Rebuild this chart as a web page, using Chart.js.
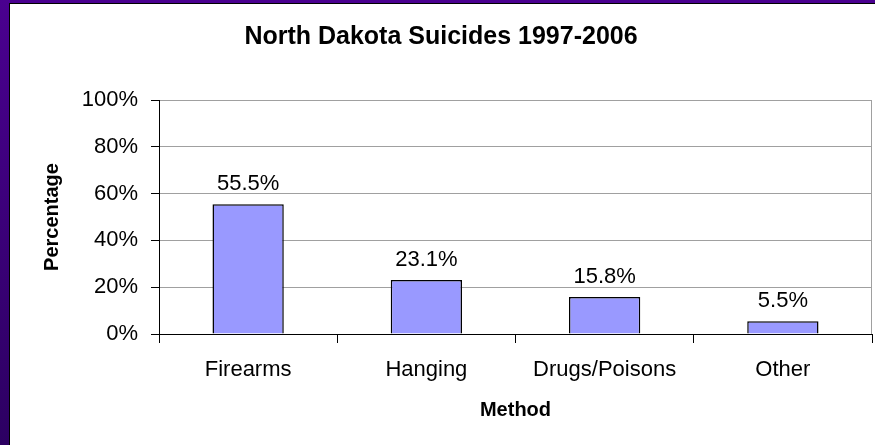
<!DOCTYPE html>
<html>
<head>
<meta charset="utf-8">
<script src="https://cdn.jsdelivr.net/npm/chart.js@4.4.1/dist/chart.umd.min.js"></script>
<style>
  html, body { margin: 0; padding: 0; }
  body {
    width: 875px; height: 445px; overflow: hidden;
    background: linear-gradient(to bottom, #4a0090, #2c0062);
    position: relative;
  }
  #box {
    position: absolute; left: 9px; top: 3px;
    width: 865px; height: 441px;
    background: #fff;
    border-left: 1px solid #000; border-top: 1px solid #000;
  }
</style>
</head>
<body>
<div id="box"><canvas id="chart" width="865" height="441"></canvas></div>
<script>
const categories = ["Firearms", "Hanging", "Drugs/Poisons", "Other"];
const percentages = [55.5, 23.1, 15.8, 5.5];
const yTicks = [0, 20, 40, 60, 80, 100];

const FONT = "'Liberation Sans', Arial, sans-serif";

// values written above each bar
const barLabels = {
    id: "barLabels",
    afterDatasetsDraw(chart) {
        const ctx = chart.ctx;
        const meta = chart.getDatasetMeta(0);
        ctx.save();
        ctx.font = "22px " + FONT;
        ctx.fillStyle = "#000";
        ctx.textAlign = "center";
        ctx.textBaseline = "bottom";
        meta.data.forEach((bar, i) => {
            ctx.fillText(percentages[i].toFixed(1) + "%", bar.x, bar.y - 9);
        });
        ctx.restore();
    }
};

// grey right edge of the plot frame
const frameRight = {
    id: "frameRight",
    beforeDatasetsDraw(chart) {
        const a = chart.chartArea, ctx = chart.ctx;
        ctx.save();
        ctx.strokeStyle = "#a0a0a0";
        ctx.lineWidth = 1;
        ctx.beginPath();
        ctx.moveTo(a.right - 0.5, a.top);
        ctx.lineTo(a.right - 0.5, a.bottom);
        ctx.stroke();
        ctx.restore();
    }
};

new Chart(document.getElementById("chart"), {
    type: "bar",
    data: {
        labels: categories,
        datasets: [{
            data: percentages,
            backgroundColor: "#9999ff",
            borderColor: "#000",
            borderWidth: 1.5,
            categoryPercentage: 0.4,
            barPercentage: 1
        }]
    },
    options: {
        responsive: false,
        animation: false,
        layout: { padding: { top: 0, right: 3, bottom: 0, left: 0 } },
        plugins: {
            legend: { display: false },
            tooltip: { enabled: false },
            title: {
                display: true,
                text: "North Dakota Suicides 1997-2006",
                color: "#000",
                font: { family: FONT, size: 25, weight: "bold" },
                padding: { top: 18, bottom: 48 }
            }
        },
        scales: {
            x: {
                grid: { display: true, drawOnChartArea: false, tickLength: 9, tickColor: "#000" },
                border: { color: "#000", width: 1 },
                ticks: { color: "#000", font: { family: FONT, size: 22 }, padding: 14 },
                title: {
                    display: true, text: "Method", color: "#000",
                    font: { family: FONT, size: 20, weight: "bold" },
                    padding: { top: 0, bottom: 23 }
                },
                afterFit(scale) { scale.height = 111; }
            },
            y: {
                min: 0, max: 100,
                afterBuildTicks(scale) { scale.ticks = yTicks.map(v => ({ value: v })); },
                grid: { color: "#a0a0a0", tickColor: "#000", tickLength: 8 },
                border: { color: "#000", width: 1 },
                ticks: {
                    color: "#000", font: { family: FONT, size: 22 }, padding: 13,
                    callback: v => v + "%"
                },
                title: {
                    display: true, text: "Percentage", color: "#000",
                    font: { family: FONT, size: 20, weight: "bold" },
                    padding: { top: 30, bottom: 0 }
                },
                afterFit(scale) { scale.width = 149; }
            }
        }
    },
    plugins: [barLabels, frameRight]
});
</script>
</body>
</html>
